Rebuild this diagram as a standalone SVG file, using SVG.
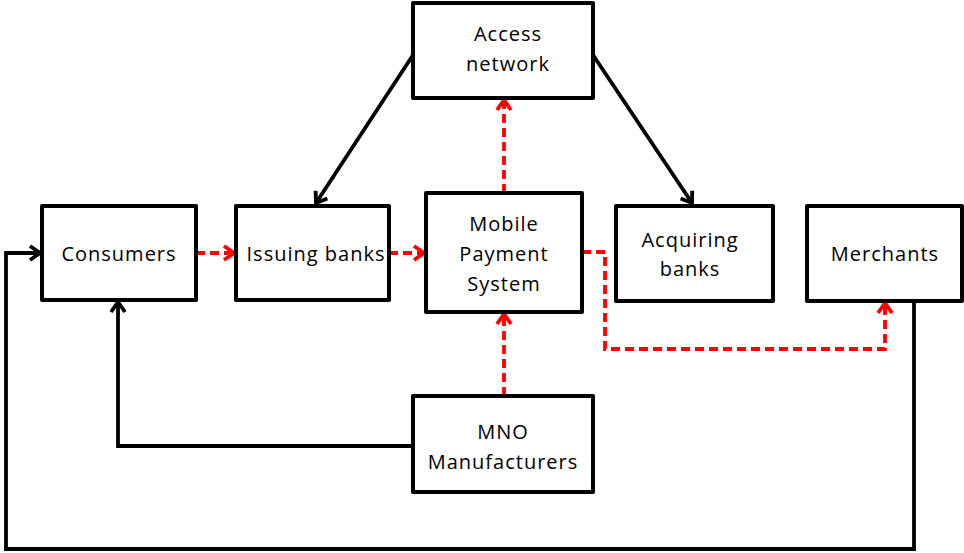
<svg xmlns="http://www.w3.org/2000/svg" width="964" height="553" viewBox="0 0 964 553">
<style>
.box{fill:#fff;stroke:#000;stroke-width:4;stroke-linejoin:round}
.lbl{font-family:"Open Sans","Liberation Sans",sans-serif;font-size:20px;fill:#000;text-anchor:middle;letter-spacing:1px}
.blk{fill:none;stroke:#000;stroke-width:3.8;stroke-linejoin:miter}
.red{fill:none;stroke:#f00;stroke-width:3.8;stroke-dasharray:9,5}
</style>
<defs>
<marker id="ab" markerUnits="userSpaceOnUse" markerWidth="20" markerHeight="20" refX="12" refY="8" orient="auto" viewBox="0 0 20 16">
<path d="M2,1 L12,8 L2,15" fill="none" stroke="#000" stroke-width="3.8"/>
</marker>
<marker id="ar" markerUnits="userSpaceOnUse" markerWidth="20" markerHeight="20" refX="12" refY="8" orient="auto" viewBox="0 0 20 16">
<path d="M2,1 L12,8 L2,15" fill="none" stroke="#f00" stroke-width="3.8"/>
</marker>
</defs>
<g id="connectors">
<path class="blk" d="M914,301 L914,549 L6,549 L6,253 L40,253" marker-end="url(#ab)"/>
<path class="blk" d="M411,446 L118,446 L118,302" marker-end="url(#ab)"/>
<path class="blk" d="M413,55 L316,203" marker-end="url(#ab)"/>
<path class="blk" d="M593,55 L692,203" marker-end="url(#ab)"/>
<path class="red" d="M196,253 L234,253" marker-end="url(#ar)"/>
<path class="red" d="M389,253 L424,253" marker-end="url(#ar)"/>
<path class="red" d="M504,193 L504,100" marker-end="url(#ar)"/>
<path class="red" d="M504,396 L504,314" marker-end="url(#ar)"/>
<path class="red" d="M582,252 L605,252 L605,349 L885,349 L885,303" marker-end="url(#ar)"/>
</g>
<g id="access-network">
<rect class="box" x="413" y="3" width="180" height="95"/>
<text class="lbl" x="508" y="41">Access</text>
<text class="lbl" x="508" y="71">network</text>
</g>
<g id="consumers">
<rect class="box" x="42" y="206" width="154" height="94"/>
<text class="lbl" x="119" y="261">Consumers</text>
</g>
<g id="issuing-banks">
<rect class="box" x="236" y="206" width="153" height="94"/>
<text class="lbl" x="316" y="261">Issuing banks</text>
</g>
<g id="mobile-payment-system">
<rect class="box" x="426" y="193" width="156" height="119"/>
<text class="lbl" x="504" y="231">Mobile</text>
<text class="lbl" x="504" y="261">Payment</text>
<text class="lbl" x="504" y="291">System</text>
</g>
<g id="acquiring-banks">
<rect class="box" x="616" y="206" width="157" height="95"/>
<text class="lbl" x="690" y="247">Acquiring</text>
<text class="lbl" x="690" y="276">banks</text>
</g>
<g id="merchants">
<rect class="box" x="807" y="206" width="155" height="95"/>
<text class="lbl" x="885" y="261">Merchants</text>
</g>
<g id="mno-manufacturers">
<rect class="box" x="413" y="396" width="180" height="96"/>
<text class="lbl" x="503" y="439">MNO</text>
<text class="lbl" x="503" y="469">Manufacturers</text>
</g>
</svg>
